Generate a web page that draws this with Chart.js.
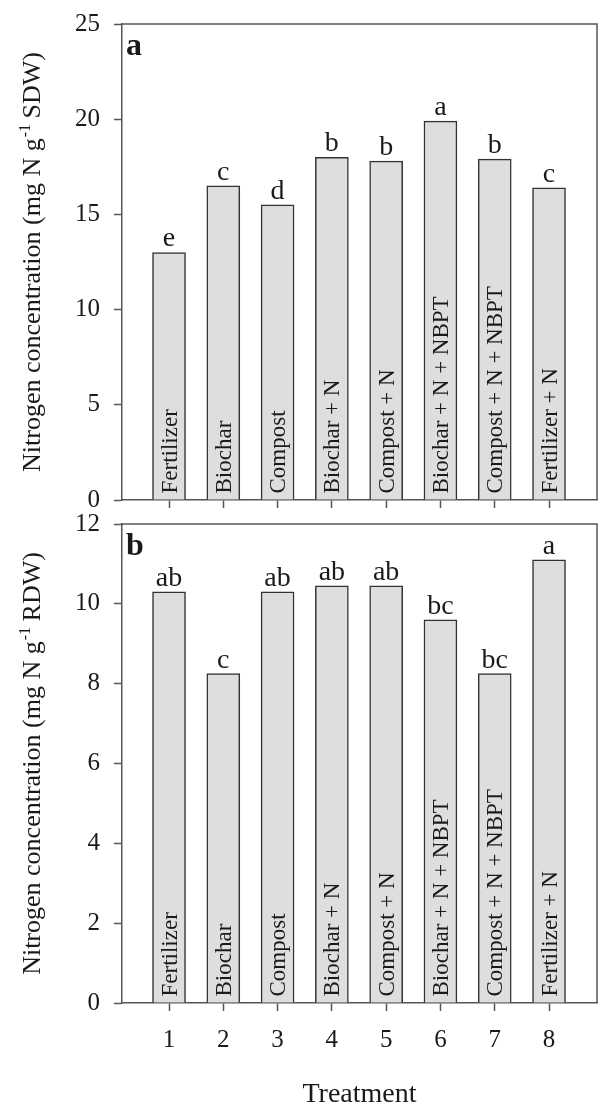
<!DOCTYPE html>
<html>
<head>
<meta charset="utf-8">
<script src="https://cdn.jsdelivr.net/npm/chart.js"></script>
<style>
  body { margin: 0; background: #fff; }
  #wrap { position: relative; width: 598px; height: 1104px; }
  canvas { position: absolute; left: 0; }
</style>
</head>
<body>
<div id="wrap">
  <canvas id="chartA" width="598" height="512" style="top:0"></canvas>
  <canvas id="chartB" width="598" height="592" style="top:512px"></canvas>
</div>
<script>
// data
const treatments = ['Fertilizer', 'Biochar', 'Compost', 'Biochar + N', 'Compost + N',
                    'Biochar + N + NBPT', 'Compost + N + NBPT', 'Fertilizer + N'];
const xTicks = [1, 2, 3, 4, 5, 6, 7, 8];
const shootN = [13.0, 16.5, 15.5, 18.0, 17.8, 19.9, 17.9, 16.4];
const shootLetters = ['e', 'c', 'd', 'b', 'b', 'a', 'b', 'c'];
const rootN = [10.3, 8.25, 10.3, 10.45, 10.45, 9.6, 8.25, 11.1];
const rootLetters = ['ab', 'c', 'ab', 'ab', 'ab', 'bc', 'bc', 'a'];

const serif = '"Liberation Serif", "Times New Roman", serif';
const frameColor = '#555555';
const textColor = '#1a1a1a';

// draws frame top/right, letters, labels inside bars, panel letter, axis titles
const panelDecor = {
    id: 'panelDecor',
    afterDraw(chart, args, opts) {
        const ctx = chart.ctx;
        const area = chart.chartArea;
        ctx.save();
        ctx.strokeStyle = frameColor;
        ctx.lineWidth = 1.5;
        ctx.beginPath();
        ctx.moveTo(area.left, area.top);
        ctx.lineTo(area.right, area.top);
        ctx.lineTo(area.right, area.bottom);
        ctx.stroke();

        ctx.fillStyle = textColor;
        const meta = chart.getDatasetMeta(0);
        meta.data.forEach((bar, i) => {
            ctx.font = '28px ' + serif;
            ctx.textAlign = 'center';
            ctx.textBaseline = 'alphabetic';
            ctx.fillText(opts.letters[i], bar.x, bar.y - 6);

            ctx.save();
            ctx.translate(bar.x, bar.base - 6);
            ctx.rotate(-Math.PI / 2);
            ctx.font = '23px ' + serif;
            ctx.textAlign = 'left';
            ctx.fillText(treatments[i], 0, 23 * 0.33);
            ctx.restore();
        });

        // panel letter
        ctx.font = 'bold 32px ' + serif;
        ctx.textAlign = 'left';
        ctx.fillText(opts.panel, area.left + 4, area.top + 31);

        // y title with superscript
        const p1 = 'Nitrogen concentration (mg N g';
        const sup = '-1';
        const p2 = ' ' + opts.unit + ')';
        ctx.font = '26px ' + serif;
        const w1 = ctx.measureText(p1).width;
        const w2 = ctx.measureText(p2).width;
        ctx.font = '16px ' + serif;
        const ws = ctx.measureText(sup).width;
        const total = w1 + ws + w2;
        const cy = (area.top + area.bottom) / 2;
        ctx.save();
        ctx.translate(40, cy + total / 2);
        ctx.rotate(-Math.PI / 2);
        ctx.textAlign = 'left';
        ctx.font = '26px ' + serif;
        ctx.fillText(p1, 0, 0);
        ctx.font = '16px ' + serif;
        ctx.fillText(sup, w1 + 1, -10);
        ctx.font = '26px ' + serif;
        ctx.fillText(p2, w1 + ws, 0);
        ctx.restore();

        if (opts.xTitle) {
            ctx.font = '28px ' + serif;
            ctx.textAlign = 'center';
            ctx.fillText(opts.xTitle, (area.left + area.right) / 2, chart.height - 2);
        }
        ctx.restore();
    }
};

function makeChart(id, values, letters, panel, unit, yMax, yStep, xHeight, padTop, showX, xTitle) {
    const ctx = document.getElementById(id).getContext('2d');
    return new Chart(ctx, {
        type: 'bar',
        data: {
            datasets: [{
                data: values.map((v, i) => ({ x: xTicks[i], y: v })),
                backgroundColor: '#dedede',
                borderColor: '#333333',
                borderWidth: 1.5,
                borderSkipped: 'bottom',
                barThickness: 33
            }]
        },
        options: {
            responsive: false,
            animation: false,
            layout: { padding: { top: padTop, right: 1, left: 0, bottom: 0 } },
            plugins: {
                legend: { display: false },
                tooltip: { enabled: false },
                panelDecor: { letters: letters, panel: panel, unit: unit, xTitle: xTitle }
            },
            scales: {
                x: {
                    type: 'linear',
                    min: 0.134,
                    max: 8.884,
                    offset: false,
                    afterBuildTicks: s => { s.ticks = xTicks.map(v => ({ value: v })); },
                    afterFit: s => {
                        s.height = xHeight;
                        s.paddingLeft = 0; s.paddingRight = 0;
                        s.paddingTop = 0; s.paddingBottom = 0;
                    },
                    grid: {
                        drawOnChartArea: false, drawTicks: true, tickLength: 8,
                        tickColor: frameColor, tickWidth: 1.5, offset: false
                    },
                    border: { display: true, color: frameColor, width: 1.5 },
                    ticks: {
                        display: showX, color: textColor, padding: 14,
                        font: { family: serif, size: 25 }
                    }
                },
                y: {
                    min: 0,
                    max: yMax,
                    afterFit: s => {
                        s.width = 122;
                        s.paddingTop = 0; s.paddingBottom = 0;
                        s.paddingLeft = 0; s.paddingRight = 0;
                    },
                    grid: {
                        drawOnChartArea: false, drawTicks: true, tickLength: 8,
                        tickColor: frameColor, tickWidth: 1.5
                    },
                    border: { display: true, color: frameColor, width: 1.5 },
                    ticks: {
                        stepSize: yStep, color: textColor, padding: 14,
                        font: { family: serif, size: 25 }
                    }
                }
            }
        },
        plugins: [panelDecor]
    });
}

makeChart('chartA', shootN, shootLetters, 'a', 'SDW', 25, 5, 12, 24, false, null);
makeChart('chartB', rootN, rootLetters, 'b', 'RDW', 12, 2, 101, 12, true, 'Treatment');
</script>
</body>
</html>
